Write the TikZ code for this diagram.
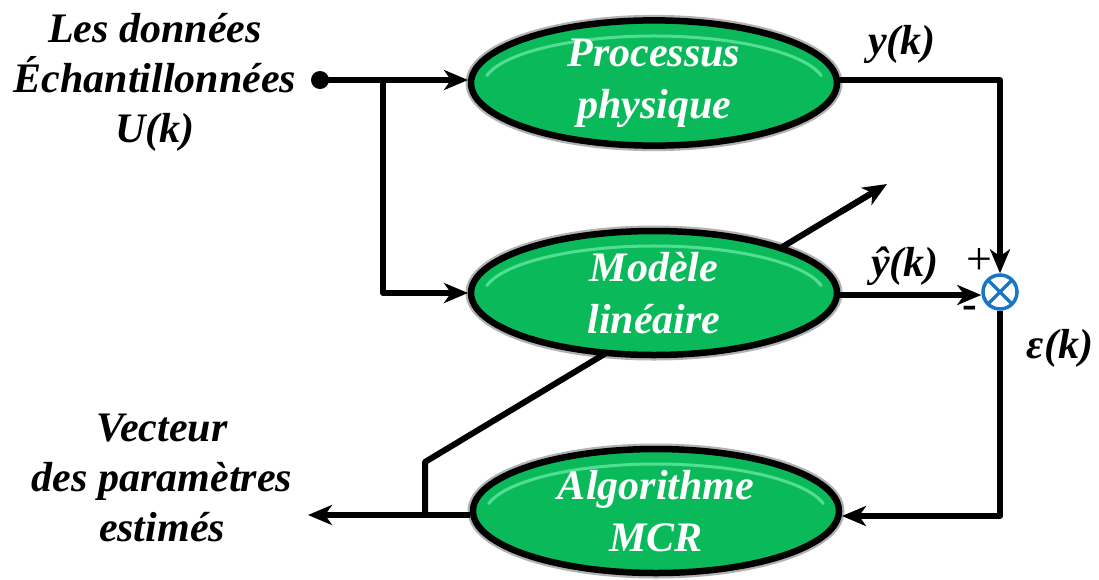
\documentclass[tikz,border=0pt]{standalone}
\usepackage{fontspec}
\setmainfont{Liberation Serif}
\usetikzlibrary{arrows.meta,shapes.geometric,calc}
\definecolor{blockgreen}{RGB}{10,186,90}
\definecolor{blockhi}{RGB}{100,232,160}
\definecolor{sumblue}{RGB}{24,118,196}
\tikzset{
  block/.style={ellipse, minimum width=366pt, minimum height=124pt, inner sep=0pt,
    draw=black, line width=6.5pt, fill=blockgreen,
    preaction={draw=black, line width=11pt, opacity=0.3},
    path picture={
      \coordinate (hc) at ([yshift=-3pt]path picture bounding box.center);
      \draw[blockhi, line width=3pt, opacity=0.8, line cap=round]
        ($(hc)+(12:171pt and 50pt)$) arc[start angle=12, end angle=168, x radius=171pt, y radius=50pt];},
    text=white, align=center, font=\fontsize{42}{52}\selectfont\bfseries\itshape},
  lbl/.style={align=center, font=\fontsize{42}{50}\selectfont\bfseries\itshape},
  wire/.style={line width=6pt},
  arr/.style={wire, -{Stealth[length=24pt,width=20pt,inset=7pt]}},
  sum/.style={circle, draw=sumblue, line width=3.5pt, minimum size=34pt, inner sep=0pt}
}
\begin{document}
\begin{tikzpicture}[x=1pt,y=-1pt]
\useasboundingbox (0,0) rectangle (1099,579);

% feedback line from the parameter vector into the model (drawn under the blocks)
\coordinate (kneeA) at (425,515);
\coordinate (kneeB) at (425,462);
\coordinate (tip) at (887,184);
\draw[wire, line join=round] (kneeA) -- (kneeB) -- ($(kneeB)!0.97!(tip)$);
\draw[arr] ($(kneeB)!0.9!(tip)$) -- (tip);

% blocks
\node[block] (proc) at (654,83) {Processus\\physique};
\node[block] (model) at (654,293) {Modèle\\linéaire};
\node[block] (algo) at (656,511) {Algorithme\\MCR};

% summing junction
\node[sum] (sum) at (1000,292) {};
\draw[sumblue, line width=3.5pt] ($(sum.center)+(-11,-11)$) -- ($(sum.center)+(11,11)$)
  ($(sum.center)+(11,-11)$) -- ($(sum.center)+(-11,11)$);

% input and its branches
\coordinate (in) at (320,80);
\fill (in) circle (9pt);
\coordinate (split) at (383,80);
\coordinate (pin) at (468,80);
\draw[arr] (in) -- (pin);
\coordinate (min) at (468,293);
\draw[arr, line join=round] (split) |- (min);

% plant output to the junction
\coordinate (pout) at (838,80);
\coordinate (pcorner) at (1000,80);
\draw[wire, line join=round] (pout) -- (pcorner) -- ($(sum.north)+(0,-30)$);
\draw[arr] ($(sum.north)+(0,-40)$) -- (sum.north);

% model output to the junction
\coordinate (mout) at (838,295);
\draw[arr] (mout) -- (sum.west |- mout);

% error to the estimator
\coordinate (ecorner) at (1000,516);
\coordinate (ain) at (842,516);
\draw[wire, line join=round] (sum.south) -- (ecorner) -- ($(ain)+(30,0)$);
\draw[arr] ($(ain)+(40,0)$) -- (ain);

% estimated parameters out
\coordinate (aout) at (470,515);
\coordinate (out) at (308,515);
\draw[arr] (aout) -- (out);

% labels
\node[lbl] (inlbl) at (155,82) {Les données\\Échantillonnées\\U(k)};
\node[lbl] (outlbl) at (162,478) {Vecteur\\des paramètres\\estimés};
\node[lbl, anchor=base] (ylbl) at (902,54) {y(k)};
\node[lbl, anchor=base] (yhlbl) at (905,276) {ŷ(k)};
\node[lbl, anchor=base] (elbl) at (1060,358) {ε(k)};
\node[font=\fontsize{46}{46}\selectfont] (plus) at (979,261) {+};
\node[font=\fontsize{44}{44}\selectfont\bfseries] (minus) at (970,312) {-};
\end{tikzpicture}
\end{document}
